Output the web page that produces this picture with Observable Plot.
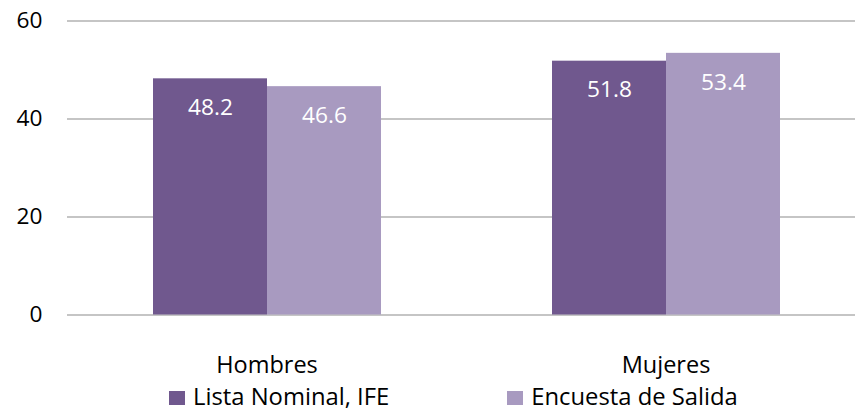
<!DOCTYPE html>
<html>
<head>
<meta charset="utf-8">
<script src="https://cdn.jsdelivr.net/npm/d3@7"></script>
<script src="https://cdn.jsdelivr.net/npm/@observablehq/plot@0.6"></script>
<style>
  html, body { margin: 0; padding: 0; background: #fff; overflow: hidden; }
  #chart { width: 855px; }
  .legend { display: flex; align-items: center; height: 31px; padding-left: 169px;
            font-family: "Open Sans", sans-serif; font-size: 23.8px; color: #000; }
  .item { display: flex; align-items: center; }
  .sw { width: 16px; height: 14px; margin-right: 8px; margin-top: 5px; }
</style>
</head>
<body>
<div id="chart"></div>
<script>
const categories = ["Hombres", "Mujeres"];
const seriesNames = ["Lista Nominal, IFE", "Encuesta de Salida"];
const listaNominal = [48.2, 51.8];
const encuesta = [46.6, 53.4];
const colors = ["#70588E", "#A89AC0"];
const yTicks = [0, 20, 40, 60];

const data = [];
categories.forEach((c, i) => {
  data.push({category: c, series: seriesNames[0], value: listaNominal[i]});
  data.push({category: c, series: seriesNames[1], value: encuesta[i]});
});

const font = "Open Sans, sans-serif";
const chart = Plot.plot({
  width: 855,
  height: 380,
  marginLeft: 67,
  marginRight: -10,
  marginTop: 20.5,
  marginBottom: 65.5,
  style: {fontFamily: font, background: "#fff", overflow: "visible"},
  fx: {domain: categories, padding: 0, label: null},
  x: {domain: seriesNames, paddingInner: 0, paddingOuter: 0.75, axis: null},
  y: {domain: [0, 60], axis: null},
  color: {domain: seriesNames, range: colors},
  marks: [
    Plot.gridY(yTicks, {stroke: "#8c8c8c", strokeOpacity: 1, strokeWidth: 1.2}),
    Plot.barY(data, {fx: "category", x: "series", y: "value", fill: "series"}),
    Plot.text(data, {fx: "category", x: "series", y: "value", text: d => d.value.toFixed(1),
      dy: 29, fill: "#fff", fontSize: 22.7, fontFamily: font}),
    Plot.axisY(yTicks, {tickSize: 0, tickPadding: 25, fontSize: 22.7, fontFamily: font,
      color: "#000", label: null}),
    Plot.axisFx({anchor: "bottom", tickSize: 0, tickPadding: 41, fontSize: 23.5, fontFamily: font,
      color: "#000", label: null})
  ]
});
document.getElementById("chart").appendChild(chart);

const legend = document.createElement("div");
legend.className = "legend";
seriesNames.forEach((s, i) => {
  const it = document.createElement("div");
  it.className = "item";
  if (i > 0) it.style.marginLeft = "118px";
  const sw = document.createElement("span");
  sw.className = "sw";
  sw.style.background = colors[i];
  const t = document.createElement("span");
  t.textContent = s;
  it.appendChild(sw); it.appendChild(t);
  legend.appendChild(it);
});
document.body.appendChild(legend);
</script>
</body>
</html>
